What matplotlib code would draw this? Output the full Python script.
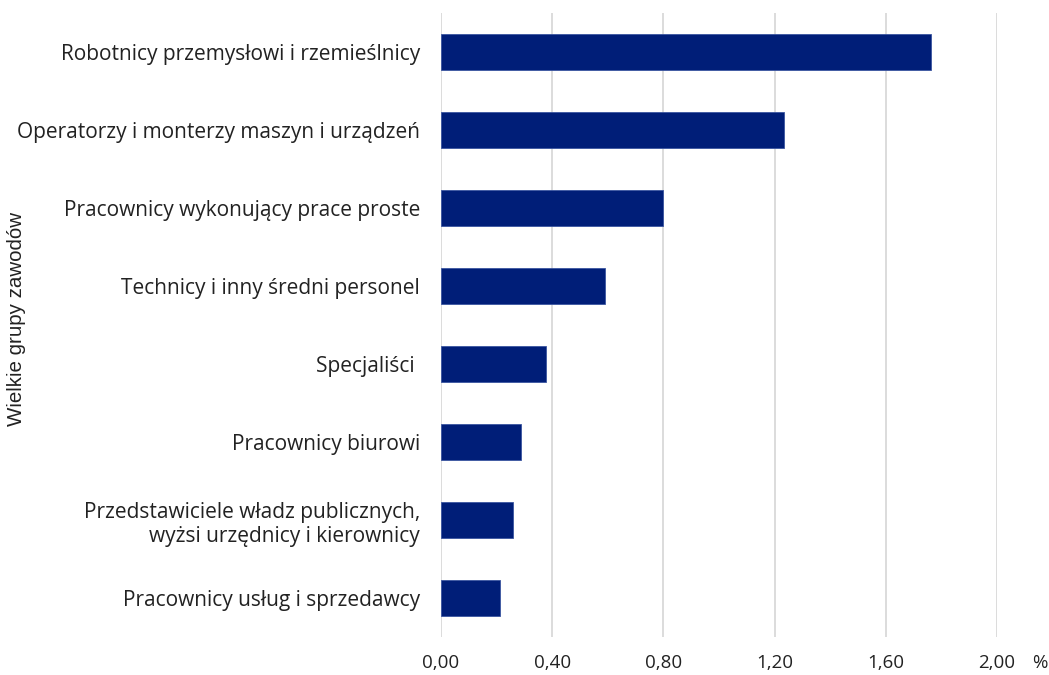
import matplotlib.pyplot as plt
import numpy as np

categories = ['Robotnicy przemysłowi i rzemieślnicy',
              'Operatorzy i monterzy maszyn i urządzeń',
              'Pracownicy wykonujący prace proste',
              'Technicy i inny średni personel',
              'Specjaliści ',
              'Pracownicy biurowi',
              'Przedstawiciele władz publicznych,\nwyżsi urzędnicy i kierownicy',
              'Pracownicy usług i sprzedawcy']
values = [1.763, 1.234, 0.799, 0.590, 0.378, 0.288, 0.259, 0.212]
xticks = [0.0, 0.4, 0.8, 1.2, 1.6, 2.0]
xticklabels = ['0,00', '0,40', '0,80', '1,20', '1,60', '2,00']

plt.rcParams['font.family'] = ['Open Sans', 'DejaVu Sans']

fig = plt.figure(figsize=(10.49, 6.75), dpi=100)
ax = fig.add_axes([0.4204, 0.0563, 0.53, 0.9244])

y = np.arange(len(categories))
ax.barh(y, values, height=0.46, color='#001e78', edgecolor='#3a55a0', linewidth=0.6, zorder=3)
ax.set_ylim(len(categories) - 0.5, -0.5)
ax.set_xlim(0, 2.0)

ax.set_xticks(xticks)
ax.set_xticklabels(xticklabels, fontsize=13.5)
ax.set_yticks(y)
ax.set_yticklabels(categories, fontsize=15, ha='right', multialignment='right')
ax.tick_params(axis='both', length=0, colors='#222222')
ax.tick_params(axis='x', pad=12)
ax.tick_params(axis='y', pad=15)

ax.grid(axis='x', color='#d9d9d9', linewidth=1.3, zorder=0)
for s in ax.spines.values():
    s.set_visible(False)

ax.set_ylabel('Wielkie grupy zawodów', fontsize=14.8, family='Liberation Sans', color='#222222')
ax.yaxis.set_label_coords(-0.746, 0.51)

fig.text(1040 / 1049, 1 - 663 / 675, '%', fontsize=13.5, ha='center', va='center', color='#222222')

plt.savefig('out.png', dpi=100)
